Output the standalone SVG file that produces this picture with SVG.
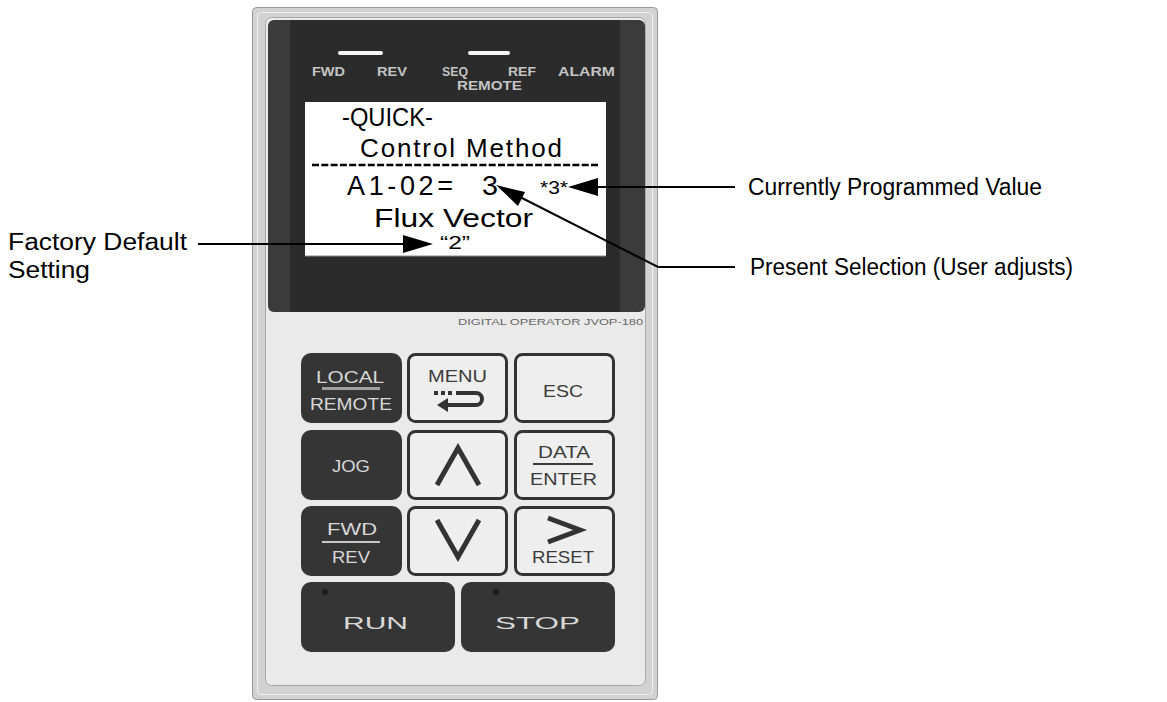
<svg xmlns="http://www.w3.org/2000/svg" width="1167" height="702" viewBox="0 0 1167 702">
<style>
.lbl{font-family:"Liberation Sans",Arial,sans-serif;font-size:23px;fill:#000}
.scr{font-family:"Liberation Sans",Arial,sans-serif;fill:#000}
.led{font-family:"Liberation Sans",Arial,sans-serif;font-size:12px;font-weight:bold;fill:#c4c4c4}
.kd{font-family:"Liberation Sans",Arial,sans-serif;font-size:17px;fill:#d8d8d8}
.kl{font-family:"Liberation Sans",Arial,sans-serif;font-size:17px;fill:#3a3a3a}
.dark{fill:#353535}
.light{fill:#eeeeee;stroke:#333;stroke-width:3}
.con{stroke:#000;stroke-width:2;fill:none}
.ah{fill:#000}
.ico{stroke:#333;stroke-width:5;fill:none;stroke-linejoin:miter}
</style>
<rect width="1167" height="702" fill="#fff"/>
<g id="panel">
<rect x="252.5" y="7.5" width="405" height="692" rx="4" fill="#d2d2d2" stroke="#999"/>
<rect x="257.5" y="12.5" width="395" height="682" rx="4" fill="none" stroke="#f2f2f2"/>
<rect x="265.5" y="17.5" width="380" height="668" rx="6" fill="#eaeaea" stroke="#a8a8a8"/>
<rect x="268" y="20" width="377" height="292" rx="6" fill="#3b3b3b"/>
<rect x="290" y="20" width="330" height="292" fill="#2b2b2b"/>
<text x="458" y="325" font-family="Liberation Sans,Arial,sans-serif" font-size="9" fill="#666" textLength="185" lengthAdjust="spacingAndGlyphs">DIGITAL OPERATOR JVOP-180</text>
</g>
<g id="leds">
<rect x="338" y="51" width="45" height="4" rx="2" fill="#f4f4f4"/>
<rect x="468" y="51" width="42" height="4" rx="2" fill="#f4f4f4"/>
<text class="led" x="312" y="76" textLength="33" lengthAdjust="spacingAndGlyphs">FWD</text>
<text class="led" x="377" y="76" textLength="30" lengthAdjust="spacingAndGlyphs">REV</text>
<text class="led" x="442" y="76" textLength="26" lengthAdjust="spacingAndGlyphs">SEQ</text>
<text class="led" x="508" y="76" textLength="28" lengthAdjust="spacingAndGlyphs">REF</text>
<text class="led" x="558" y="76" textLength="57" lengthAdjust="spacingAndGlyphs">ALARM</text>
<text class="led" x="457" y="90" font-size="11" textLength="65" lengthAdjust="spacingAndGlyphs">REMOTE</text>
</g>
<g id="screen">
<rect x="305" y="102" width="301" height="154" fill="#fff"/>
<line x1="305" y1="256" x2="606" y2="256" stroke="#888" stroke-width="1"/>
<text class="scr" x="342" y="126" font-size="25" textLength="91" lengthAdjust="spacingAndGlyphs">-QUICK-</text>
<text class="scr" x="360" y="157" font-size="26" textLength="202" lengthAdjust="spacing">Control Method</text>
<line x1="312" y1="165" x2="598" y2="165" stroke="#000" stroke-width="2.5" stroke-dasharray="7 2.3"/>
<text class="scr" x="347" y="195" font-size="27" textLength="106" lengthAdjust="spacing">A1-02=</text>
<text class="scr" x="482" y="195" font-size="27" textLength="16" lengthAdjust="spacingAndGlyphs">3</text>
<text class="scr" x="540" y="194" font-size="19" textLength="28" lengthAdjust="spacingAndGlyphs">*3*</text>
<text class="scr" x="374" y="227" font-size="26" textLength="159" lengthAdjust="spacingAndGlyphs">Flux Vector</text>
<text class="scr" x="440" y="249" font-size="18" textLength="30" lengthAdjust="spacingAndGlyphs">“2”</text>
</g>
<g id="key-local-remote">
<rect class="dark" x="301" y="353" width="101" height="70" rx="10"/>
<text class="kd" x="316" y="383" font-size="18" textLength="68" lengthAdjust="spacingAndGlyphs">LOCAL</text>
<rect x="322" y="387" width="58" height="3" fill="#a0a0a0"/>
<text class="kd" x="310" y="410" font-size="18" textLength="82" lengthAdjust="spacingAndGlyphs">REMOTE</text>
</g>
<g id="key-menu">
<rect class="light" x="408.5" y="354.5" width="98" height="67" rx="7"/>
<text class="kl" x="428" y="382" font-size="18" textLength="59" lengthAdjust="spacingAndGlyphs">MENU</text>
<rect x="434" y="391" width="4" height="4" fill="#333"/>
<rect x="441" y="391" width="4" height="4" fill="#333"/>
<rect x="448" y="391" width="4" height="4" fill="#333"/>
<path d="M456 393 H476 A6 6 0 0 1 476 405 H446" stroke="#333" stroke-width="4" fill="none"/>
<polygon points="437,405 448,398 448,412" fill="#333"/>
</g>
<g id="key-esc">
<rect class="light" x="515.5" y="354.5" width="98" height="67" rx="7"/>
<text class="kl" x="543" y="397" textLength="40" lengthAdjust="spacingAndGlyphs">ESC</text>
</g>
<g id="key-jog">
<rect class="dark" x="301" y="430" width="101" height="70" rx="10"/>
<text class="kd" x="332" y="472" textLength="38" lengthAdjust="spacingAndGlyphs">JOG</text>
</g>
<g id="key-up">
<rect class="light" x="408.5" y="431.5" width="98" height="67" rx="7"/>
<polyline class="ico" points="437,485 458,448 479,485"/>
</g>
<g id="key-data-enter">
<rect class="light" x="515.5" y="431.5" width="98" height="67" rx="7"/>
<text class="kl" x="538" y="458" textLength="52" lengthAdjust="spacingAndGlyphs">DATA</text>
<rect x="533" y="463" width="60" height="2" fill="#3a3a3a"/>
<text class="kl" x="530" y="485" textLength="67" lengthAdjust="spacingAndGlyphs">ENTER</text>
</g>
<g id="key-fwd-rev">
<rect class="dark" x="301" y="506" width="101" height="70" rx="10"/>
<text class="kd" x="327" y="535" textLength="50" lengthAdjust="spacingAndGlyphs">FWD</text>
<rect x="322" y="541" width="58" height="2" fill="#c8c8c8"/>
<text class="kd" x="332" y="563" textLength="38" lengthAdjust="spacingAndGlyphs">REV</text>
</g>
<g id="key-down">
<rect class="light" x="408.5" y="507.5" width="98" height="67" rx="7"/>
<polyline class="ico" points="437,520 458,557 479,520"/>
</g>
<g id="key-reset">
<rect class="light" x="515.5" y="507.5" width="98" height="67" rx="7"/>
<polyline class="ico" points="548,518 580,530 548,542"/>
<text class="kl" x="532" y="563" textLength="62" lengthAdjust="spacingAndGlyphs">RESET</text>
</g>
<g id="key-run">
<rect class="dark" x="301" y="582" width="154" height="70" rx="10"/>
<circle cx="325" cy="592" r="3" fill="#1c1c1c"/>
<text class="kd" x="343" y="629" font-size="29" textLength="65" lengthAdjust="spacingAndGlyphs">RUN</text>
</g>
<g id="key-stop">
<rect class="dark" x="461" y="582" width="154" height="70" rx="10"/>
<circle cx="496" cy="592" r="3" fill="#1c1c1c"/>
<text class="kd" x="495" y="629" font-size="29" textLength="85" lengthAdjust="spacingAndGlyphs">STOP</text>
</g>
<g id="label-factory">
<text class="lbl" x="8" y="250" textLength="179" lengthAdjust="spacingAndGlyphs">Factory Default</text>
<text class="lbl" x="8" y="278" textLength="82" lengthAdjust="spacingAndGlyphs">Setting</text>
</g>
<g id="label-current">
<text class="lbl" x="748" y="195" textLength="294" lengthAdjust="spacingAndGlyphs">Currently Programmed Value</text>
</g>
<g id="label-present">
<text class="lbl" x="750" y="275" textLength="323" lengthAdjust="spacingAndGlyphs">Present Selection (User adjusts)</text>
</g>
<g id="connectors">
<line class="con" x1="198" y1="244" x2="405" y2="244"/>
<polygon class="ah" points="433,244 403,235 403,253"/>
<line class="con" x1="596" y1="187" x2="735" y2="187"/>
<polygon class="ah" points="568,187 598,178 598,196"/>
<polyline class="con" points="735,267 658,267 520,197"/>
<polygon class="ah" points="496,185 525,192 518,206"/>
</g>
</svg>
